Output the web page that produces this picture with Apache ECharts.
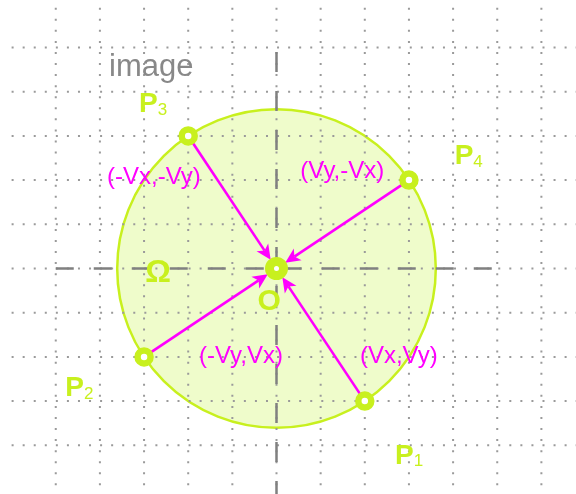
<!DOCTYPE html>
<html><head><meta charset="utf-8">
<script src="https://cdn.jsdelivr.net/npm/echarts@6/dist/echarts.min.js"></script>
<style>html,body{margin:0;padding:0;background:#fff}#c{width:576px;height:494px}</style>
</head><body><div id="c"></div>
<script>
// ---- data (grid units) ----
const gridXs = [-5, -4, -3, -2, -1, 0, 1, 2, 3, 4, 5, 6];
const gridYs = [-4, -3, -2, -1, 0, 1, 2, 3, 4, 5];
const gridXSpan = [-6, 6.8];
const gridYSpan = [-5.1, 5.9];
const axisXSpan = [-5, 5];
const axisYSpan = [4.9, -5.1];
const origin = [0, 0];
const pointNames = ['1', '2', '3', '4'];
const pointXs = [2, -3, -2, 3];
const pointYs = [-3, -2, 3, 2];
const pointLabelXs = [2.684, -4.784, -3.114, 4.036];
const pointLabelYs = [-3.93, -2.40, 4.03, 2.855];
const vectorLabels = ['(Vx,Vy)', '(-Vy,Vx)', '(-Vx,-Vy)', '(Vy,-Vx)'];
const vectorLabelXs = [2.770, -0.806, -2.777, 1.490];
const vectorLabelYs = [-1.980, -1.984, 2.07, 2.199];
const titleText = 'image';
const titlePos = [-3.794, 4.552];
const omegaText = 'Ω';
const omegaPos = [-2.684, -0.115];
const originText = 'O';
const originLabelPos = [-0.165, -0.749];

// ---- styles ----
const GREEN = '#c8f01e';
const MAG = '#ff00ff';
const FONT = "'Liberation Sans', Arial, sans-serif";

const gridSegs = [];
gridXs.forEach(x => gridSegs.push([x, gridYSpan[1], x, gridYSpan[0]]));
gridYs.forEach(y => gridSegs.push([gridXSpan[0], y, gridXSpan[1], y]));
const axisSegs = [[axisXSpan[0], origin[1], axisXSpan[1], origin[1]], [origin[0], axisYSpan[0], origin[0], axisYSpan[1]]];
const arrowSegs = pointXs.map((x, i) => [x, pointYs[i], origin[0], origin[1]]);
const circleData = [[origin[0], origin[1], pointXs[0], pointYs[0]]];
const markerData = pointXs.map((x, i) => [x, pointYs[i], 0]).concat([[origin[0], origin[1], 1]]);

function segRender(style, dashes) {
  return function (params, api) {
    const a = api.coord([api.value(0), api.value(1)]);
    const b = api.coord([api.value(2), api.value(3)]);
    const s = Object.assign({}, style);
    if (dashes) s.lineDash = dashes[params.dataIndex] || dashes[0];
    return { type: 'line', shape: { x1: a[0], y1: a[1], x2: b[0], y2: b[1] }, style: s };
  };
}
function circleRender(params, api) {
  const c = api.coord([api.value(0), api.value(1)]);
  const p = api.coord([api.value(2), api.value(3)]);
  const r = Math.hypot(p[0] - c[0], p[1] - c[1]);
  return { type: 'circle', shape: { cx: c[0], cy: c[1], r: r }, style: { fill: '#effccb', stroke: GREEN, lineWidth: 2.5 } };
}
function markerRender(params, api) {
  const c = api.coord([api.value(0), api.value(1)]);
  const big = api.value(2) === 1;
  return { type: 'circle', shape: { cx: c[0], cy: c[1], r: big ? 7 : 6.5 },
    style: { fill: '#ffffff', stroke: GREEN, lineWidth: big ? 9 : 6.5 } };
}
function arrowRender(params, api) {
  const p = api.coord([api.value(0), api.value(1)]);
  const o = api.coord([api.value(2), api.value(3)]);
  const dx = o[0] - p[0], dy = o[1] - p[1];
  const L = Math.hypot(dx, dy), ux = dx / L, uy = dy / L, nx = -uy, ny = ux;
  const tip = [o[0] - ux * 10.5, o[1] - uy * 10.5];
  const back = [tip[0] - ux * 15, tip[1] - uy * 15];
  const notch = [tip[0] - ux * 11, tip[1] - uy * 11];
  return { type: 'group', children: [
    { type: 'line', shape: { x1: p[0], y1: p[1], x2: notch[0], y2: notch[1] }, style: { stroke: MAG, lineWidth: 2.6 } },
    { type: 'polygon', shape: { points: [tip, [back[0] + nx * 7, back[1] + ny * 7], notch, [back[0] - nx * 7, back[1] - ny * 7]] }, style: { fill: MAG } }
  ] };
}
function textRender(params, api) {
  const d = textItems[params.dataIndex];
  const c = api.coord([api.value(0), api.value(1)]);
  return { type: 'text', x: c[0], y: c[1], style: d.style };
}

const textItems = [];
const textData = [];
pointNames.forEach((n, i) => {
  textItems.push({ style: { text: '{p|P}{s|' + n + '}', align: 'left', verticalAlign: 'top',
    rich: { p: { fontSize: 28, fontWeight: 'bold', fontFamily: FONT, fill: GREEN, lineHeight: 28 },
            s: { fontSize: 17, fontFamily: FONT, fill: GREEN, lineHeight: 23, verticalAlign: 'bottom' } } } });
  textData.push([pointLabelXs[i], pointLabelYs[i]]);
});
vectorLabels.forEach((t, i) => {
  textItems.push({ style: { text: t, align: 'center', verticalAlign: 'middle', font: '24px ' + FONT, fill: MAG } });
  textData.push([vectorLabelXs[i], vectorLabelYs[i]]);
});
textItems.push({ style: { text: titleText, align: 'left', verticalAlign: 'middle', font: '31px ' + FONT, fill: '#888888' } });
textData.push(titlePos);
textItems.push({ style: { text: omegaText, align: 'center', verticalAlign: 'middle', font: 'bold 32px ' + FONT, fill: GREEN } });
textData.push(omegaPos);
textItems.push({ style: { text: originText, align: 'center', verticalAlign: 'middle', font: 'bold 30px ' + FONT, fill: GREEN } });
textData.push(originLabelPos);

const enc = { x: [0, 2], y: [1, 3] };
const chart = echarts.init(document.getElementById('c'), null, { renderer: 'canvas' });
chart.setOption({
  animation: false,
  backgroundColor: '#ffffff',
  grid: { left: 0, right: 0, top: 0, bottom: 0 },
  xAxis: { type: 'value', min: -6.263, max: 6.784, show: false },
  yAxis: { type: 'value', min: -5.102, max: 6.075, show: false },
  series: [
    { type: 'custom', renderItem: circleRender, data: circleData, silent: true, z: 1, encode: enc },
    { type: 'custom', renderItem: segRender({ stroke: '#9a9a9a', lineWidth: 2 }, [[2, 9.06]]), data: gridSegs, silent: true, z: 2, encode: enc },
    { type: 'custom', renderItem: segRender({ stroke: '#808080', lineWidth: 2.5 }, [[18, 20], [20, 19]]), data: axisSegs, silent: true, z: 3, encode: enc },
    { type: 'custom', renderItem: arrowRender, data: arrowSegs, silent: true, z: 4, encode: enc },
    { type: 'custom', renderItem: markerRender, data: markerData, silent: true, z: 5, encode: { x: 0, y: 1 } },
    { type: 'custom', renderItem: textRender, data: textData, silent: true, z: 6, encode: { x: 0, y: 1 } }
  ]
});
</script></body></html>
